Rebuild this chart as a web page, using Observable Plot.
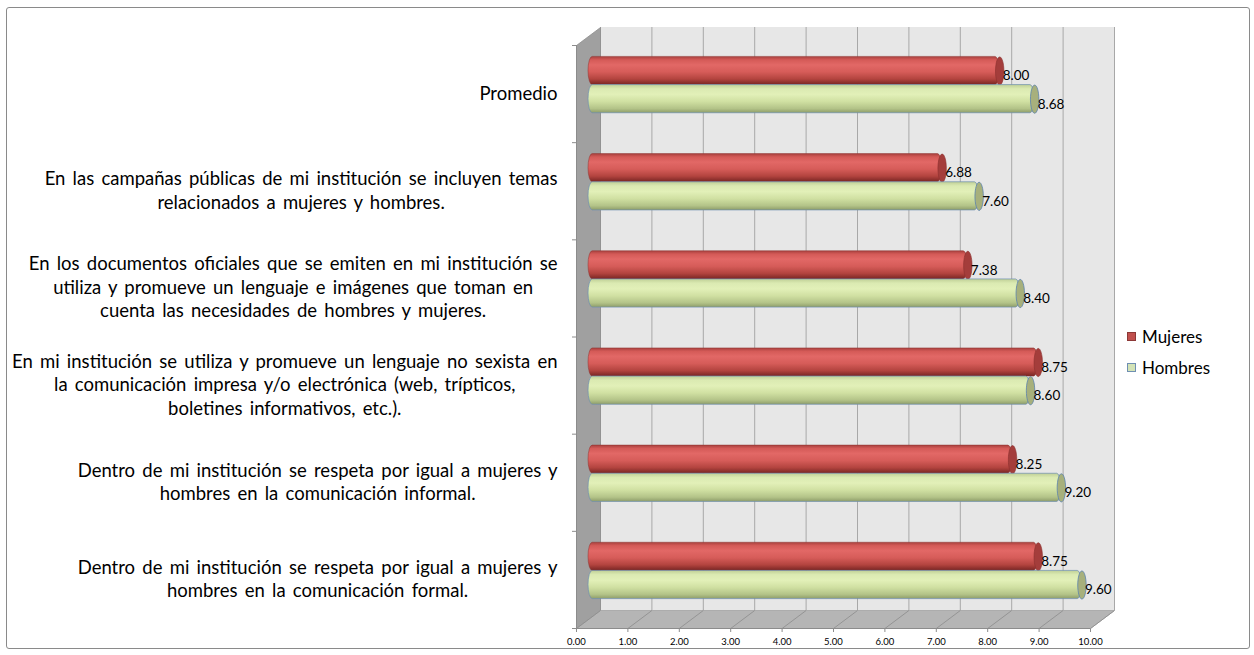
<!DOCTYPE html>
<html>
<head>
<meta charset="utf-8">
<script src="https://cdn.jsdelivr.net/npm/d3@7"></script>
<script src="https://cdn.jsdelivr.net/npm/@observablehq/plot@0.6"></script>
<style>
  html, body { margin: 0; padding: 0; background: #fff; }
  #wrap { position: relative; width: 1254px; height: 655px; font-family: Lato, "Open Sans", sans-serif; }
  #border { position: absolute; left: 6px; top: 7px; width: 1244px; height: 642px; border: 1px solid #8a8a8a; border-radius: 3px; box-sizing: border-box; }
  #chart { position: absolute; left: 0; top: 0; }
  #legend { position: absolute; left: 1127px; top: 321px; font-size: 17px; color: #000; }
  #legend .row { display: flex; align-items: center; height: 31px; }
  #legend .sw { width: 9px; height: 9px; margin-right: 6px; box-sizing: border-box; }
</style>
</head>
<body>
<div id="wrap">
  <div id="border"></div>
  <div id="chart"></div>
  <div id="legend"></div>
</div>
<script>
// ---- data ----
const categories = [
  "Promedio",
  "En las campañas públicas de mi institución se incluyen temas\nrelacionados a mujeres y hombres.",
  "En los documentos oficiales que se emiten en mi institución se\nutiliza y promueve un lenguaje e imágenes que toman en\ncuenta las necesidades de hombres y mujeres.",
  "En mi institución se utiliza y promueve un lenguaje no sexista en\nla comunicación impresa y/o electrónica (web, trípticos,\nboletines informativos, etc.).",
  "Dentro de mi institución se respeta por igual a mujeres y\nhombres en la comunicación informal.",
  "Dentro de mi institución se respeta por igual a mujeres y\nhombres en la comunicación formal."
];
const seriesNames = ["Mujeres", "Hombres"];
const mujeres = [8.00, 6.88, 7.38, 8.75, 8.25, 8.75];
const hombres = [8.68, 7.60, 8.40, 8.60, 9.20, 9.60];
const xTicks = [0, 1, 2, 3, 4, 5, 6, 7, 8, 9, 10];

// ---- layout / style constants ----
const W = 1254, H = 655;
const mL = 576, mR = 164, mT = 45, mB = 27;
const pxPerX = (W - mL - mR) / 10;
const pxPerY = (H - mT - mB) / categories.length;
const depthX = 24, depthY = -18;            // back plane offset in px
const DXU = depthX / pxPerX, DYU = depthY / pxPerY;
const barDx = depthX / 2, barDy = depthY / 2;
const slotTop = 0.21, slotMid = 0.5, slotBot = 0.79;
const capRx = 4.2, capRy = (slotMid - slotTop) * pxPerY / 2;
const nCat = categories.length;

const rowsM = mujeres.map((v, i) => ({i, value: v, series: seriesNames[0]}));
const rowsH = hombres.map((v, i) => ({i, value: v, series: seriesNames[1]}));
const catRows = categories.map((c, i) => ({i, label: c}));

// ellipse symbol for cylinder end caps
const ellipse = {
  draw(ctx) {
    const rx = capRx, ry = capRy, k = 0.5523;
    ctx.moveTo(rx, 0);
    ctx.bezierCurveTo(rx, ry * k, rx * k, ry, 0, ry);
    ctx.bezierCurveTo(-rx * k, ry, -rx, ry * k, -rx, 0);
    ctx.bezierCurveTo(-rx, -ry * k, -rx * k, -ry, 0, -ry);
    ctx.bezierCurveTo(rx * k, -ry, rx, -ry * k, rx, 0);
    ctx.closePath();
  }
};

// 3D frame polygons (front plane d=0, back plane d=1)
const P = (x, y, d) => ({x: x + d * DXU, y: y + d * DYU});
const leftWall = [P(0, 0, 0), P(0, 0, 1), P(0, nCat, 1), P(0, nCat, 0), P(0, 0, 0)];
const floor = [P(0, nCat, 0), P(0, nCat, 1), P(10, nCat, 1), P(10, nCat, 0), P(0, nCat, 0)];

const plot = Plot.plot({
  width: W, height: H,
  marginLeft: mL, marginRight: mR, marginTop: mT, marginBottom: mB,
  style: {fontFamily: "Lato, 'Open Sans', sans-serif", fontSize: "9.5px", color: "#000", background: "transparent", overflow: "visible"},
  x: {domain: [0, 10], ticks: xTicks, tickFormat: d3.format(".2f"), tickSize: 4, tickPadding: 6, label: null},
  y: {domain: [0, nCat], reverse: true, ticks: d3.range(nCat + 1), tickSize: 4, tickFormat: () => "", label: null},
  marks: [
    // back wall
    Plot.rect([0], {x1: 0, x2: 10, y1: 0, y2: nCat, dx: depthX, dy: depthY, fill: "#e7e7e7"}),
    Plot.ruleX(xTicks, {y1: 0, y2: nCat, dx: depthX, dy: depthY, stroke: "#a8a8a8", strokeWidth: 1}),
    // left wall
    Plot.line(leftWall, {x: "x", y: "y", fill: "#a0a0a0", stroke: "#8e8e8e", strokeWidth: 0.8}),
    // floor
    Plot.line(floor, {x: "x", y: "y", fill: "#b5b5b5", stroke: "#a0a0a0", strokeWidth: 0.8}),
    Plot.link(xTicks, {x1: d => d, y1: nCat, x2: d => d + DXU, y2: nCat + DYU, stroke: "#8c8c8c", strokeWidth: 0.8}),
    // front axis lines
    Plot.ruleY([nCat], {x1: 0, x2: 10, stroke: "#8c8c8c"}),
    Plot.ruleX([0], {y1: 0, y2: nCat, stroke: "#8c8c8c"}),
    // Mujeres cylinders
    Plot.rect(rowsM, {x1: 0, x2: "value", y1: d => d.i + slotTop, y2: d => d.i + slotMid, dx: barDx, dy: barDy,
      fill: "url(#gradM)", stroke: "#8f3431", strokeWidth: 0.5, rx: capRx, ry: capRy}),
    Plot.dot(rowsM, {x: "value", y: d => d.i + (slotTop + slotMid) / 2, dx: barDx, dy: barDy, symbol: ellipse,
      fill: "#a43d3b", stroke: "#8a2f2d", strokeWidth: 0.6}),
    // Hombres cylinders
    Plot.rect(rowsH, {x1: 0, x2: "value", y1: d => d.i + slotMid, y2: d => d.i + slotBot, dx: barDx, dy: barDy,
      fill: "url(#gradH)", stroke: "#6f8fb2", strokeWidth: 0.7, rx: capRx, ry: capRy}),
    Plot.dot(rowsH, {x: "value", y: d => d.i + (slotMid + slotBot) / 2, dx: barDx, dy: barDy, symbol: ellipse,
      fill: "#a7b07c", stroke: "#5b82ad", strokeWidth: 0.8}),
    // value labels
    Plot.text(rowsM, {x: "value", y: d => d.i + (slotTop + slotMid) / 2, text: d => d.value.toFixed(2),
      dx: barDx + 3, dy: barDy + 5, textAnchor: "start", fontSize: 13.5, fill: "#000"}),
    Plot.text(rowsH, {x: "value", y: d => d.i + (slotMid + slotBot) / 2, text: d => d.value.toFixed(2),
      dx: barDx + 3, dy: barDy + 5, textAnchor: "start", fontSize: 13.5, fill: "#000"}),
    // category labels
    Plot.text(catRows, {x: 0, y: d => d.i + 0.5, text: "label", textAnchor: "end", dx: -19, dy: -2,
      lineHeight: 1.27, fontSize: 18.5, fill: "#000"})
  ]
});

// gradients for cylinder shading
const defs = d3.select(plot).insert("defs", ":first-child");
function grad(id, stops) {
  const g = defs.append("linearGradient").attr("id", id).attr("x1", 0).attr("y1", 0).attr("x2", 0).attr("y2", 1);
  stops.forEach(([o, c]) => g.append("stop").attr("offset", o).attr("stop-color", c));
}
grad("gradM", [[0, "#a8403e"], [0.12, "#d45a57"], [0.3, "#e26866"], [0.55, "#d65c59"], [0.8, "#b3443f"], [1, "#782523"]]);
grad("gradH", [[0, "#bfcf96"], [0.15, "#dbeab2"], [0.35, "#e2f0b8"], [0.6, "#d0e0a2"], [0.85, "#b3c388"], [1, "#8e9d6a"]]);

// gray tick lines like the original
d3.select(plot).selectAll('[aria-label="x-axis tick"], [aria-label="y-axis tick"]').attr("stroke", "#8c8c8c");

document.getElementById("chart").appendChild(plot);

// category labels: block right-aligned, lines centred within the block (as in the original)
const textGroups = plot.querySelectorAll('g[aria-label="text"]');
const catGroup = textGroups[textGroups.length - 1];
catGroup.setAttribute("word-spacing", "2.5px");
catGroup.querySelectorAll("text").forEach(t => {
  const spans = t.querySelectorAll("tspan");
  if (spans.length < 2) return;
  let maxW = 0;
  spans.forEach(s => { maxW = Math.max(maxW, s.getComputedTextLength()); });
  t.setAttribute("text-anchor", "middle");
  spans.forEach(s => s.setAttribute("x", -maxW / 2));
});

// legend
const legendColors = {Mujeres: ["#c0504d", "#8c3836"], Hombres: ["#d3e3b6", "#6f8fb2"]};
const legend = d3.select("#legend");
seriesNames.forEach(name => {
  const row = legend.append("div").attr("class", "row");
  row.append("div").attr("class", "sw")
    .style("background", legendColors[name][0])
    .style("border", `1px solid ${legendColors[name][1]}`);
  row.append("span").text(name);
});
</script>
</body>
</html>
